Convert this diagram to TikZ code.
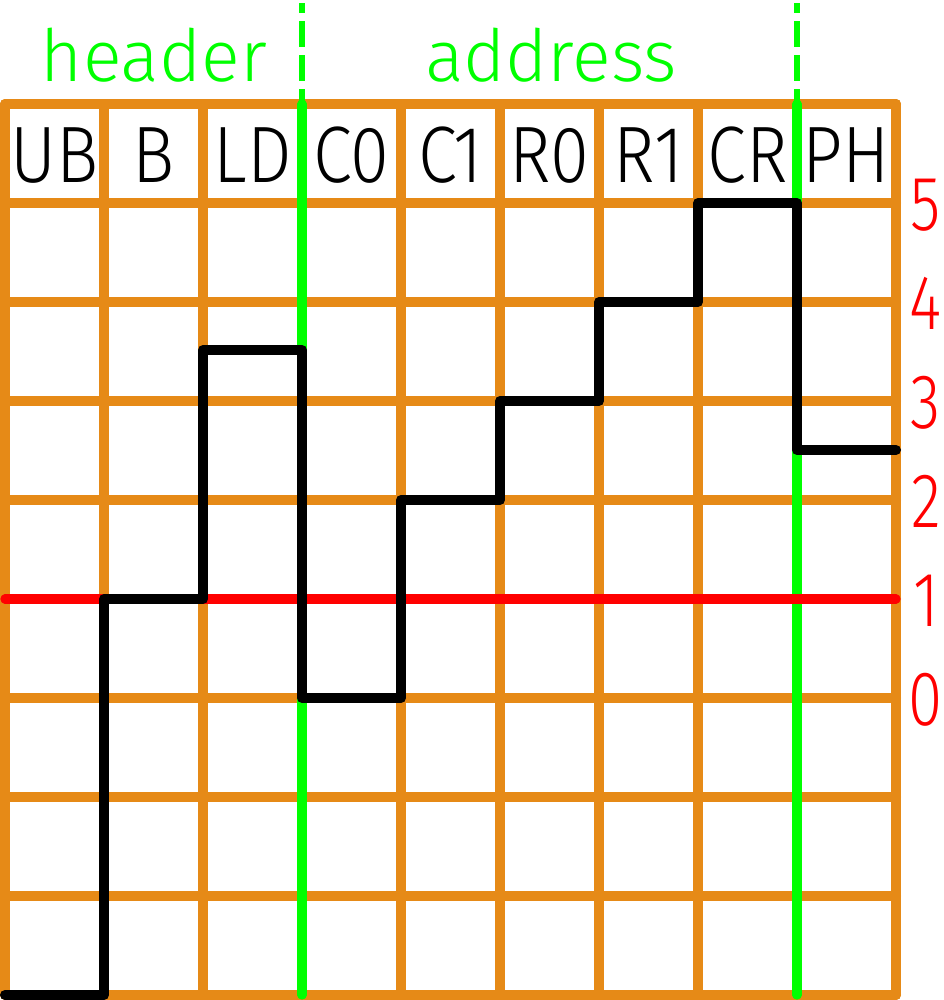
\documentclass[tikz,border=0pt]{standalone}
\usepackage{fontspec}
\setmainfont{Fira Sans Light}
\definecolor{gridorange}{HTML}{E68A17}
\definecolor{brightgreen}{HTML}{00FF00}
\definecolor{brightred}{HTML}{FF0000}
\newcommand{\cellfont}{\fontsize{60}{64}\selectfont}
\newcommand{\headfont}{\fontsize{54}{58}\selectfont}
\newcommand{\numfont}{\fontsize{58}{62}\selectfont}
\newcommand{\narrow}[2]{\scalebox{#1}[1]{#2}}
\begin{document}
\begin{tikzpicture}[x=0.75pt,y=-0.75pt,
  gridline/.style={draw=gridorange,line width=7.5pt,line cap=round,line join=round},
  sectionline/.style={draw=brightgreen,line width=7pt,line cap=round},
  sectiondash/.style={draw=brightgreen,line width=4.5pt,dash pattern=on 19.5pt off 6pt,dash phase=12pt},
  refline/.style={draw=brightred,line width=7pt,line cap=round},
  signal/.style={draw=black,line width=7.5pt,line cap=round,line join=round},
  celllabel/.style={inner sep=0pt,anchor=base,text=black,font=\cellfont},
  headlabel/.style={inner sep=0pt,anchor=base,text=brightgreen,font=\headfont},
  numlabel/.style={inner sep=0pt,anchor=base,text=brightred,font=\numfont}]
\useasboundingbox (0,0) rectangle (944,1000);
% grid
\foreach \k in {0,...,9} {
  \draw[gridline] ({5+99*\k},104) -- ({5+99*\k},995);
  \draw[gridline] (5,{104+99*\k}) -- (896,{104+99*\k});
}
% section separators
\draw[sectiondash] (302,3) -- (302,104);
\draw[sectiondash] (797,3) -- (797,104);
\draw[sectionline] (302,104) -- (302,995);
\draw[sectionline] (797,104) -- (797,995);
% reference level
\draw[refline] (5,599) -- (896,599);
% signal
\draw[signal] (5,995) -- (104,995) -- (104,599) -- (203,599) -- (203,350)
  -- (302,350) -- (302,698) -- (401,698) -- (401,500) -- (500,500)
  -- (500,401) -- (599,401) -- (599,302) -- (698,302) -- (698,203)
  -- (797,203) -- (797,450) -- (896,450);
% column labels
\node[celllabel] (lUB) at (54.5,182) {\narrow{0.88}{UB}};
\node[celllabel] (lB)  at (153.5,182) {\narrow{0.88}{B}};
\node[celllabel] (lLD) at (252.5,182) {\narrow{0.88}{LD}};
\node[celllabel] (lC0) at (351.5,182) {\narrow{0.88}{C0}};
\node[celllabel] (lC1) at (450.5,182) {\narrow{0.88}{C1}};
\node[celllabel] (lR0) at (549.5,182) {\narrow{0.88}{R0}};
\node[celllabel] (lR1) at (648.5,182) {\narrow{0.88}{R1}};
\node[celllabel] (lCR) at (747.5,182) {\narrow{0.88}{CR}};
\node[celllabel] (lPH) at (846.5,182) {\narrow{0.88}{PH}};
% section labels
\node[headlabel] (hdr) at (154,81) {header};
\node[headlabel] (adr) at (551,81) {address};
% level numbers
\node[numlabel] (n5) at (926,230) {\narrow{0.8}{5}};
\node[numlabel] (n4) at (926,329) {\narrow{0.8}{4}};
\node[numlabel] (n3) at (926,428) {\narrow{0.8}{3}};
\node[numlabel] (n2) at (926,527) {\narrow{0.8}{2}};
\node[numlabel] (n1) at (926,626) {\narrow{0.8}{1}};
\node[numlabel] (n0) at (926,725) {\narrow{0.8}{0}};
\end{tikzpicture}
\end{document}
